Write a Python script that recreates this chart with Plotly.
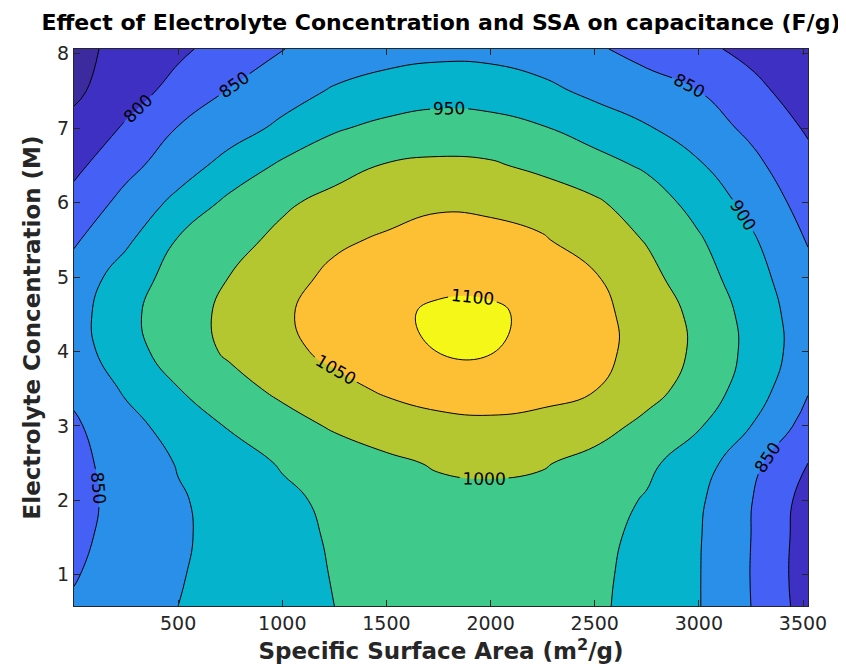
import plotly.graph_objects as go

# Specific surface area (m^2/g) grid
ssa = [0, 250, 500, 750, 1000, 1250, 1500, 1750, 2000, 2250, 2500, 2750, 3000, 3250, 3524]
# Electrolyte concentration (M) grid
conc = [0.58, 1.0, 1.5, 2.0, 2.5, 3.0, 3.5, 4.0, 4.5, 5.0, 5.5, 6.0, 6.5, 7.0, 7.5, 8.063]

# Capacitance (F/g), one row per concentration (bottom to top)
cap_058 = [855, 878, 900, 916, 933, 950, 958, 964, 965, 962, 956, 937, 902, 850, 778]
cap_100 = [847, 872, 897, 916, 934, 952, 961, 967, 968, 965, 958, 937, 902, 849, 775]
cap_150 = [840, 867, 894, 915, 935, 955, 966, 973, 974, 970, 962, 939, 903, 850, 777]
cap_200 = [836, 865, 895, 918, 940, 960, 975, 985, 988, 983, 970, 946, 907, 852, 781]
cap_250 = [838, 869, 903, 930, 954, 972, 990, 1005, 1009, 1004, 984, 960, 923, 864, 800]
cap_300 = [843, 884, 920, 954, 980, 1006, 1025, 1038, 1042, 1037, 1020, 987, 954, 900, 832]
cap_350 = [860, 907, 949, 982, 1012, 1036, 1057, 1068, 1070, 1064, 1052, 1019, 978, 928, 854]
cap_400 = [877, 931, 973, 1008, 1037, 1062, 1080, 1101, 1102, 1086, 1064, 1032, 990, 937, 872]
cap_450 = [880, 938, 978, 1012, 1045, 1066, 1087, 1110, 1110, 1084, 1062, 1032, 986, 934, 870]
cap_500 = [869, 924, 970, 1001, 1033, 1060, 1074, 1085, 1084, 1074, 1054, 1014, 971, 921, 862]
cap_550 = [844, 891, 953, 983, 1012, 1042, 1056, 1063, 1062, 1054, 1027, 997, 955, 907, 847]
cap_600 = [816, 865, 913, 962, 992, 1015, 1031, 1045, 1042, 1030, 1007, 974, 933, 885, 830]
cap_650 = [788, 836, 876, 918, 958, 981, 1003, 1009, 1006, 988, 967, 943, 905, 863, 814]
cap_700 = [763, 806, 852, 879, 910, 945, 962, 971, 966, 953, 930, 904, 874, 840, 794]
cap_750 = [741, 779, 816, 853, 879, 905, 921, 931, 929, 913, 888, 869, 850, 814, 775]
cap_806 = [738, 763, 791, 820, 849, 868, 880, 886, 884, 872, 856, 834, 811, 787, 762]

capacitance = [cap_058, cap_100, cap_150, cap_200, cap_250, cap_300, cap_350, cap_400,
               cap_450, cap_500, cap_550, cap_600, cap_650, cap_700, cap_750, cap_806]

x_ticks = [500, 1000, 1500, 2000, 2500, 3000, 3500]
y_ticks = [1, 2, 3, 4, 5, 6, 7, 8]

band_colors = ["#3b2b9f", "#3e30c2", "#4560f5", "#2a8fe9", "#05b4cc",
               "#3fca8c", "#b4c630", "#fdc035", "#f5f718"]
n = len(band_colors) - 1
colorscale = [[i / n, c] for i, c in enumerate(band_colors)]

fig = go.Figure(go.Contour(
    x=ssa, y=conc, z=capacitance,
    autocontour=False,
    contours=dict(start=750, end=1100, size=50, coloring="fill",
                  showlabels=True,
                  labelfont=dict(family="DejaVu Sans", size=17, color="black")),
    colorscale=colorscale,
    showscale=False,
    line=dict(color="black", width=1, smoothing=1.3),
    hoverinfo="skip",
))

axis_common = dict(
    showline=True, linecolor="#262626", linewidth=1, mirror="ticks",
    ticks="inside", ticklen=6, tickcolor="#262626",
    showgrid=False, zeroline=False, automargin=False,
    tickfont=dict(family="DejaVu Sans", size=19, color="#262626"),
)

fig.update_layout(
    width=846, height=670,
    margin=dict(l=66, r=46, t=41, b=72),
    paper_bgcolor="white", plot_bgcolor="white",
    title=dict(text="Effect of Electrolyte Concentration and SSA on capacitance (F/g)",
               x=0.5, xref="paper", y=1 - 14 / 670, yref="container", yanchor="middle",
               font=dict(family="DejaVu Sans", size=22, color="black", weight="bold")),
    xaxis=dict(range=[0, 3524], tickvals=x_ticks, **axis_common,
               title=dict(text="Specific Surface Area (m<sup>2</sup>/g)", standoff=10,
                          font=dict(family="DejaVu Sans", size=23, color="#262626", weight="bold"))),
    yaxis=dict(range=[0.58, 8.063], tickvals=y_ticks, **axis_common,
               title=dict(text="Electrolyte Concentration (M)", standoff=10,
                          font=dict(family="DejaVu Sans", size=23, color="#262626", weight="bold"))),
)

fig.write_html("out.html")
